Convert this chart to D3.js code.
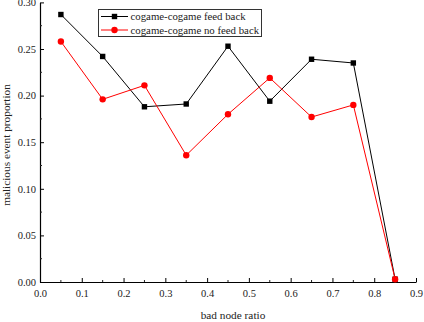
<!DOCTYPE html>
<html>
<head>
<meta charset="utf-8">
<script src="https://d3js.org/d3.v7.min.js"></script>
<style>
    body { margin: 0; background: white; }
    text { font-family: "Liberation Serif", "Times New Roman", serif; fill: #222; }
</style>
</head>
<body>
<div id="chart"></div>
<script>
// data
const ratios = [0.05, 0.15, 0.25, 0.35, 0.45, 0.55, 0.65, 0.75, 0.85];
const feedBack = [0.287, 0.242, 0.188, 0.191, 0.253, 0.194, 0.239, 0.235, 0.003];
const noFeedBack = [0.258, 0.196, 0.211, 0.136, 0.180, 0.219, 0.177, 0.190, 0.003];
const xTicks = [0.0, 0.1, 0.2, 0.3, 0.4, 0.5, 0.6, 0.7, 0.8, 0.9];
const yTicks = [0.00, 0.05, 0.10, 0.15, 0.20, 0.25, 0.30];
const seriesNames = ["cogame-cogame feed back", "cogame-cogame no feed back"];

const W = 424, H = 322;
const plotL = 40, plotR = 416, plotT = 2.4, plotB = 282;

const svg = d3.select("#chart").append("svg")
    .attr("width", W).attr("height", H);

const x = d3.scaleLinear().domain([0, 0.9]).range([plotL, plotR]);
const y = d3.scaleLinear().domain([0, 0.30]).range([plotB, plotT]);

// x axis: ticks point inward (up)
const xAxis = svg.append("g")
    .attr("transform", "translate(0," + plotB + ")")
    .call(d3.axisBottom(x).tickValues(xTicks).tickFormat(d3.format(".1f"))
        .tickSizeInner(-4).tickSizeOuter(0).tickPadding(8));
xAxis.selectAll("text").style("font-size", "10.5px");
xAxis.select(".domain").attr("stroke-width", 1.2);

// minor x ticks
svg.append("g").selectAll("line")
    .data(d3.range(0.05, 0.9, 0.1))
    .join("line")
    .attr("x1", d => x(d)).attr("x2", d => x(d))
    .attr("y1", plotB).attr("y2", plotB - 2)
    .attr("stroke", "#222");

// y axis: ticks point inward (right)
const yAxis = svg.append("g")
    .attr("transform", "translate(" + plotL + ",0)")
    .call(d3.axisLeft(y).tickValues(yTicks).tickFormat(d3.format(".2f"))
        .tickSizeInner(-4).tickSizeOuter(0).tickPadding(4));
yAxis.selectAll("text").style("font-size", "10.5px");
yAxis.select(".domain").attr("stroke-width", 1.2);

svg.append("g").selectAll("line")
    .data(d3.range(0.025, 0.3, 0.05))
    .join("line")
    .attr("x1", plotL).attr("x2", plotL + 2)
    .attr("y1", d => y(d)).attr("y2", d => y(d))
    .attr("stroke", "#222");

// axis titles
svg.append("text")
    .attr("x", 233).attr("y", 319)
    .attr("text-anchor", "middle")
    .style("font-size", "11.3px")
    .text("bad node ratio");

svg.append("text")
    .attr("transform", "translate(9.5,145) rotate(-90)")
    .attr("text-anchor", "middle")
    .style("font-size", "11.3px")
    .text("malicious event proportion");

// lines
const line = d3.line().x((d, i) => x(ratios[i])).y(d => y(d));

svg.append("path").datum(feedBack)
    .attr("d", line).attr("fill", "none")
    .attr("stroke", "black").attr("stroke-width", 1);

svg.append("g").selectAll("rect")
    .data(feedBack).join("rect")
    .attr("x", (d, i) => x(ratios[i]) - 2.7)
    .attr("y", d => y(d) - 2.7)
    .attr("width", 5.4).attr("height", 5.4)
    .attr("fill", "black");

svg.append("path").datum(noFeedBack)
    .attr("d", line).attr("fill", "none")
    .attr("stroke", "red").attr("stroke-width", 1);

svg.append("g").selectAll("circle")
    .data(noFeedBack).join("circle")
    .attr("cx", (d, i) => x(ratios[i]))
    .attr("cy", d => y(d))
    .attr("r", 3.2)
    .attr("fill", "red");

// legend
const lg = svg.append("g");
lg.append("rect")
    .attr("x", 98.5).attr("y", 9.5).attr("width", 163).attr("height", 27)
    .attr("fill", "white").attr("stroke", "#333").attr("stroke-width", 1);

const colors = ["black", "red"];
seriesNames.forEach(function(name, i) {
    const ly = 16.5 + i * 13.5;
    lg.append("line")
        .attr("x1", 101).attr("x2", 128).attr("y1", ly).attr("y2", ly)
        .attr("stroke", colors[i]);
    if (i === 0) {
        lg.append("rect").attr("x", 111.8).attr("y", ly - 2.7)
            .attr("width", 5.4).attr("height", 5.4).attr("fill", "black");
    } else {
        lg.append("circle").attr("cx", 114.5).attr("cy", ly).attr("r", 3.2)
            .attr("fill", "red");
    }
    lg.append("text")
        .attr("x", 130.5).attr("y", ly + 3.6)
        .style("font-size", "10.8px")
        .text(name);
});
</script>
</body>
</html>
